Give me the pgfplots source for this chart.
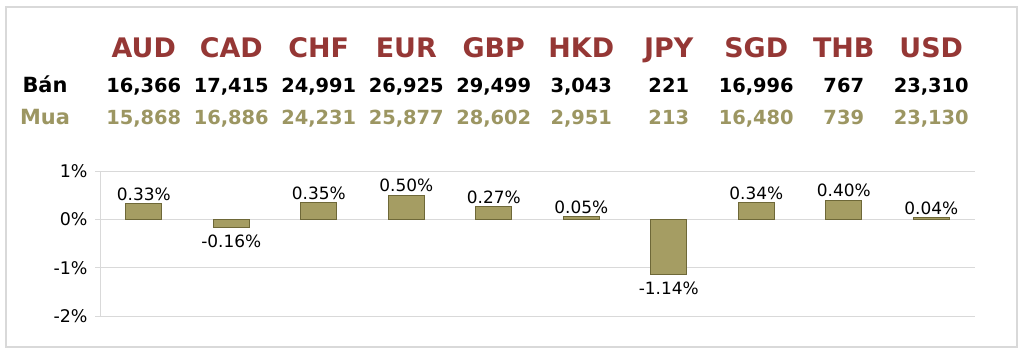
\documentclass[border=0pt]{standalone}
\usepackage{fontspec}
\setmainfont{DejaVu Sans}
\usepackage{pgfplots}
\pgfplotsset{compat=1.18}
\definecolor{cur}{HTML}{953735}
\definecolor{mua}{HTML}{9C9662}
\definecolor{barfill}{HTML}{A59D63}
\definecolor{bardark}{HTML}{6E6838}
\definecolor{gridc}{HTML}{D9D9D9}
\begin{document}
\begin{tikzpicture}[x=1bp,y=1bp]
\path[use as bounding box, fill=white] (0,0) rectangle (1024,360);
\draw[gridc, line width=1.2bp] (6,13) rectangle (1017,353);
\begin{axis}[
  at={(100bp,44bp)}, anchor=south west,
  scale only axis, width=875bp, height=145bp,
  xmin=-0.5, xmax=9.5, ymin=-2, ymax=1,
  ybar, bar width=36bp,
  ytick={-2,-1,0,1}, yticklabels={-2\%,-1\%,0\%,1\%},
  xtick=\empty,
  axis lines*=left,
  x axis line style={draw=none},
  y axis line style={draw=gridc, line width=1bp},
  ymajorgrids, grid style={draw=gridc, line width=1bp},
  tick align=outside, major tick length=5bp,
  ytick style={draw=gridc, line width=1bp},
  yticklabel style={font=\fontsize{17.5}{18}\selectfont, text=black, xshift=-4bp},
  clip=false,
]
\addplot[bar shift=0pt, fill=barfill, draw=bardark, line width=1bp,
  nodes near coords, point meta=explicit symbolic,
  nodes near coords style={font=\fontsize{17}{18}\selectfont, text=black, inner sep=2.5bp, anchor=south}]
coordinates {
 (0,0.33)[0.33\%]
 (2,0.35)[0.35\%]
 (3,0.50)[0.50\%]
 (4,0.27)[0.27\%]
 (5,0.05)[0.05\%]
 (7,0.34)[0.34\%]
 (8,0.40)[0.40\%]
 (9,0.04)[0.04\%]
};
\addplot[bar shift=0pt, fill=barfill, draw=bardark, line width=1bp,
  nodes near coords, point meta=explicit symbolic,
  nodes near coords style={font=\fontsize{17}{18}\selectfont, text=black, inner sep=2bp, anchor=north, yshift=-5bp}]
coordinates {
 (1,-0.16)[-0.16\%]
 (6,-1.14)[-1.14\%]
};
\end{axis}
\node[anchor=base, font=\bfseries\fontsize{21}{22}\selectfont, text=black] at (45,268) {Bán};
\node[anchor=base, font=\bfseries\fontsize{21}{22}\selectfont, text=mua] at (45,236) {Mua};
\foreach \c/\b/\m [count=\i from 0] in {AUD/{16,366}/{15,868}, CAD/{17,415}/{16,886}, CHF/{24,991}/{24,231}, EUR/{26,925}/{25,877}, GBP/{29,499}/{28,602}, HKD/{3,043}/{2,951}, JPY/{221}/{213}, SGD/{16,996}/{16,480}, THB/{767}/{739}, USD/{23,310}/{23,130}} {
  \pgfmathsetmacro{\xx}{100+87.5*(\i+0.5)}
  \node[anchor=base, font=\bfseries\fontsize{27}{28}\selectfont, text=cur] at (\xx,303) {\c};
  \node[anchor=base, font=\bfseries\fontsize{19.5}{22}\selectfont, text=black] at (\xx,268) {\b};
  \node[anchor=base, font=\bfseries\fontsize{19.5}{22}\selectfont, text=mua] at (\xx,236) {\m};
}
\end{tikzpicture}
\end{document}
